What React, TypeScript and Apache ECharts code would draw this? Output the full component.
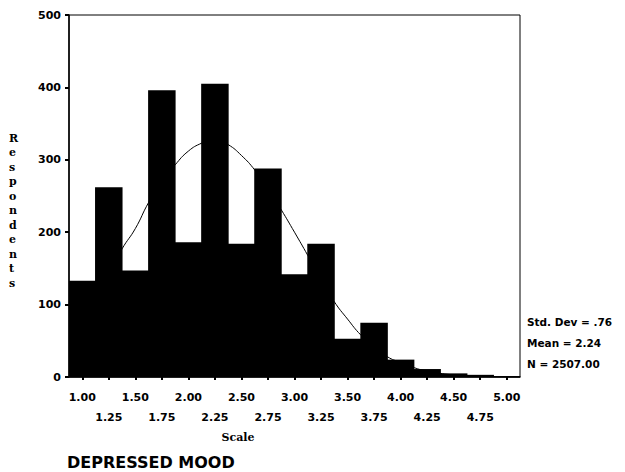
import React, { useEffect, useRef } from "react";
import * as echarts from "echarts";

const categories = ["1.00","1.25","1.50","1.75","2.00","2.25","2.50","2.75","3.00","3.25","3.50","3.75","4.00","4.25","4.50","4.75","5.00"];
const counts = [133, 262, 147, 396, 186, 405, 184, 288, 142, 184, 53, 75, 24, 11, 5, 3, 1];
const curveX = [0.875, 1.0, 1.125, 1.25, 1.375, 1.5, 1.625, 1.75, 1.875, 2.0, 2.125, 2.25, 2.375, 2.5, 2.625, 2.75, 2.875, 3.0, 3.125, 3.25, 3.375, 3.5, 3.625, 3.75, 3.875, 4.0, 4.125, 4.25, 4.375, 4.5, 4.625, 4.75, 4.875, 5.0, 5.125];
const curveY = [70, 87, 112, 142, 177, 205, 241, 270, 293, 312, 323, 329, 321, 306, 286, 260, 231, 200, 168, 135, 104, 80, 58, 42, 28, 20, 13, 8, 5, 3, 2, 1, 0.5, 0.3, 0.2];
const yTicks = [0, 100, 200, 300, 400, 500];
const stats = ["Std. Dev = .76", "Mean = 2.24", "N = 2507.00"];
const yTitle = "Respondents";
const xTitle = "Scale";
const chartTitle = "DEPRESSED MOOD";

export default function App() {
  const ref = useRef<HTMLDivElement>(null);
  useEffect(() => {
    document.body.style.margin = "0";
    if (!ref.current) return;
    const chart = echarts.init(ref.current, null, { renderer: "svg" });
    const boldSans = { fontFamily: "DejaVu Sans", fontWeight: "bold" as const, color: "#000" };
    chart.setOption({
      animation: false,
      backgroundColor: "#fff",
      grid: { left: 69, right: 105, top: 15, bottom: 95, show: true, borderColor: "#000", borderWidth: 1 },
      xAxis: [
        {
          type: "category",
          data: categories,
          boundaryGap: true,
          axisLine: { lineStyle: { color: "#000", width: 1.5 } },
          axisTick: { show: true, alignWithLabel: true, interval: 0, length: 3, lineStyle: { color: "#000", width: 2 } },
          axisLabel: {
            interval: 0,
            margin: 10,
            fontSize: 11,
            lineHeight: 20,
            ...boldSans,
            formatter: (v: string, i: number) => (i % 2 === 1 ? "\n" + v : v),
          },
        },
        { type: "value", min: 0.875, max: 5.125, show: false },
      ],
      yAxis: {
        type: "value",
        min: yTicks[0],
        max: yTicks[yTicks.length - 1],
        interval: 100,
        axisLine: { show: true, lineStyle: { color: "#000", width: 1.5 } },
        axisTick: { show: true, length: 4, lineStyle: { color: "#000", width: 2 } },
        splitLine: { show: false },
        axisLabel: { fontSize: 11, margin: 8, ...boldSans },
      },
      series: [
        {
          type: "bar",
          data: counts,
          barWidth: 27.5,
          itemStyle: { color: "#000" },
          xAxisIndex: 0,
        },
        {
          type: "line",
          xAxisIndex: 1,
          data: curveX.map((x, i) => [x, curveY[i]]),
          smooth: true,
          symbol: "none",
          lineStyle: { color: "#000", width: 1 },
          z: 5,
        },
      ],
      graphic: [
        {
          type: "text",
          left: 9,
          top: 131,
          style: {
            text: yTitle.split("").join("\n"),
            font: "bold 11px 'DejaVu Serif'",
            lineHeight: 14.5,
            fill: "#000",
            align: "center",
          },
        },
        {
          type: "text",
          x: 238,
          y: 437,
          style: { text: xTitle, font: "bold 11px 'DejaVu Serif'", fill: "#000", align: "center", verticalAlign: "middle" },
        },
        {
          type: "text",
          x: 67,
          y: 462,
          style: { text: chartTitle, font: "bold 16px 'DejaVu Sans'", fill: "#000", align: "left", verticalAlign: "middle" },
        },
        ...stats.map((s, i) => ({
          type: "text",
          x: 527,
          y: 322 + i * 21,
          style: { text: s, font: "bold 10.5px 'DejaVu Sans'", fill: "#000", align: "left", verticalAlign: "middle" },
        })),
      ],
    });
    return () => chart.dispose();
  }, []);
  return <div ref={ref} style={{ width: 625, height: 472 }} />;
}
